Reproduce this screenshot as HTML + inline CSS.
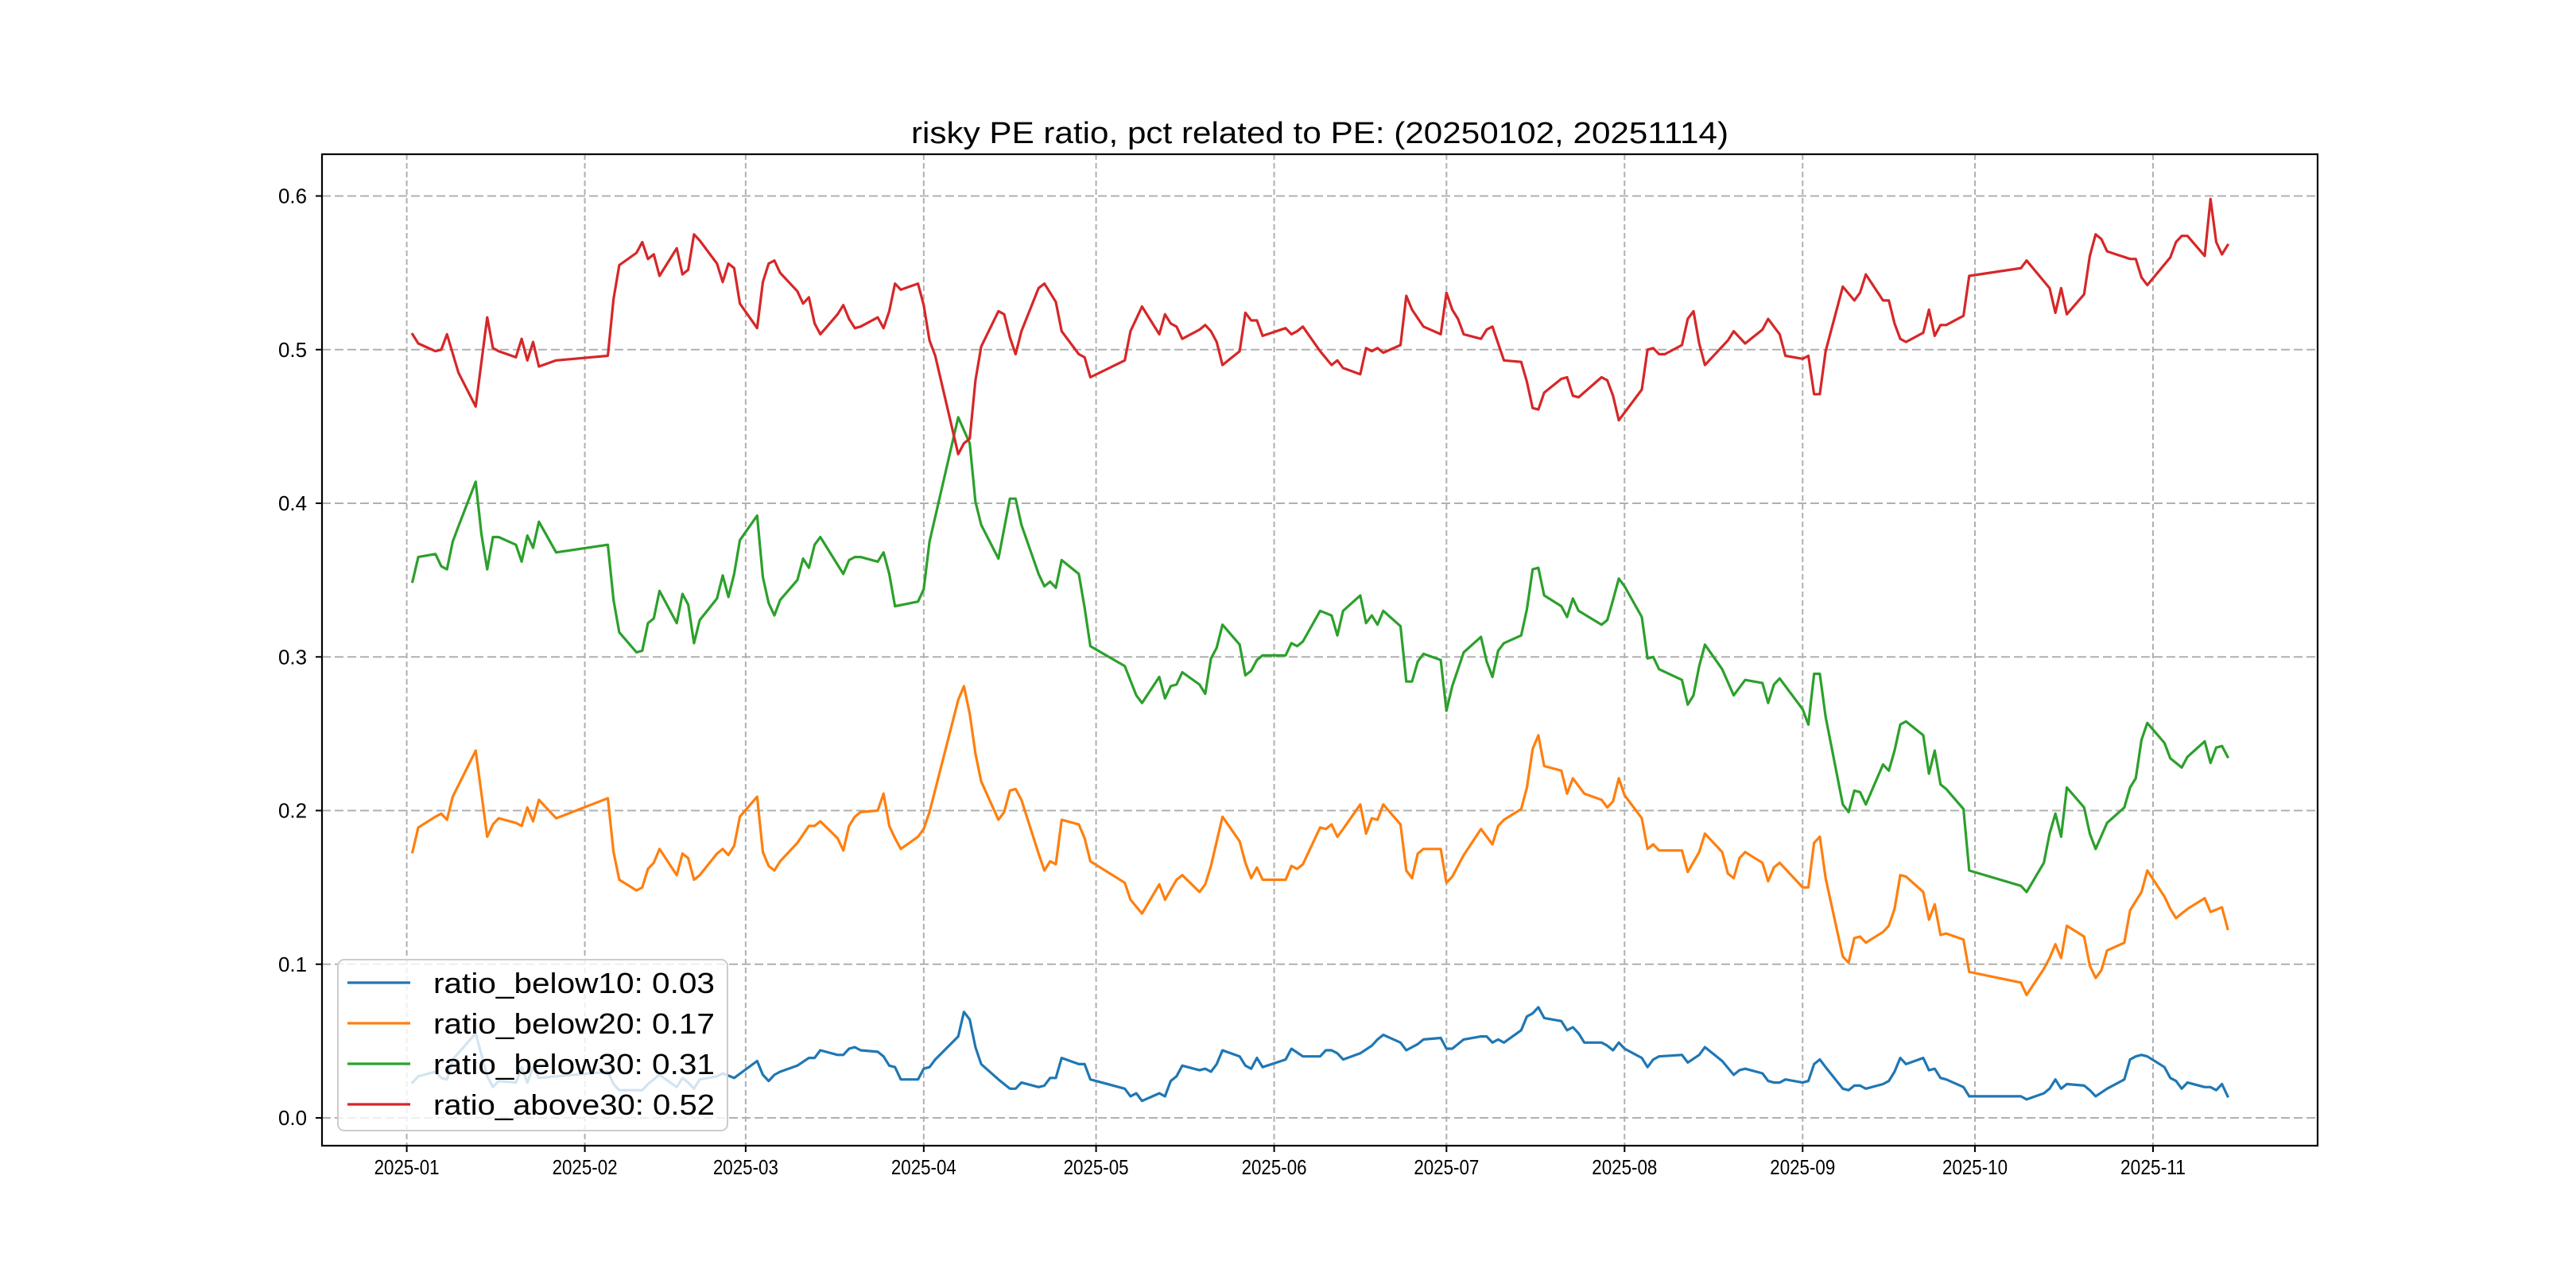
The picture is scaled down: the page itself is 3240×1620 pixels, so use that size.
<!DOCTYPE html>
<html><head><meta charset="utf-8"><style>
html,body{margin:0;padding:0;background:#fff;}
svg{display:block;}
text{font-family:"Liberation Sans","Noto Sans CJK SC",sans-serif;fill:#000;}
</style></head><body>
<svg id="chart" width="3240" height="1620" viewBox="0 0 3240 1620" xmlns="http://www.w3.org/2000/svg">
<rect x="0" y="0" width="3240" height="1620" fill="#fff"/>
<text x="1660" y="180" font-size="38" text-anchor="middle" textLength="1028" lengthAdjust="spacingAndGlyphs">risky PE ratio, pct related to PE: (20250102, 20251114)</text>
<g id="grid"></g>
<g id="series"></g>
<rect x="405" y="194" width="2510" height="1247" fill="none" stroke="#000" stroke-width="2.2"/>
<g id="ticks"></g>
<g id="legend"></g>
</svg>
<script>
const monthLabels = ["2025-01","2025-02","2025-03","2025-04","2025-05","2025-06","2025-07","2025-08","2025-09","2025-10","2025-11"];
const yTickValues = [0,0.1,0.2,0.3,0.4,0.5,0.6];
const yTickLabels = ["0.0","0.1","0.2","0.3","0.4","0.5","0.6"];
const seriesNames = ["ratio_below10: 0.03","ratio_below20: 0.17","ratio_below30: 0.31","ratio_above30: 0.52"];

const below10Days = [1,2,5,6,7,8,12,14,15,16,19,20,21,22,23,26,35,36,37,41,42,44,47,48,49,50,51,54,55,57,61,62,63,64,65,68,70,71,72,75,76,77,78,79,82,83,84,85,86,89,90,91,92,96,97,98,99,100,103,104,105,106,107,110,111,112,113,114,117,118,119,125,126,127,128,131,132,133,134,135,138,139,140,141,142,145,146,147,148,149,153,154,156,159,160,161,162,163,166,168,169,170,173,174,176,177,180,181,182,184,187,188,189,190,191,194,195,196,197,198,201,202,203,204,205,208,209,210,211,212,215,216,217,218,222,223,225,226,229,231,232,233,236,237,238,239,240,243,244,245,246,247,250,251,252,253,254,257,258,259,260,261,264,265,266,267,268,271,272,281,282,285,286,287,288,289,292,293,294,296,299,300,301,302,303,306,307,308,309,310,313,314,315,316,317];
const below10Vals = [.023,.027,.030,.026,.025,.038,.055,.027,.020,.024,.023,.033,.023,.033,.026,.027,.030,.022,.018,.018,.022,.028,.020,.026,.023,.019,.025,.027,.029,.026,.037,.028,.024,.028,.030,.034,.039,.039,.044,.041,.041,.045,.046,.044,.043,.040,.034,.033,.025,.025,.032,.033,.038,.053,.069,.064,.046,.035,.025,.022,.019,.019,.023,.020,.021,.026,.026,.039,.035,.035,.025,.019,.014,.016,.011,.016,.014,.024,.027,.034,.031,.032,.030,.035,.044,.040,.034,.032,.039,.033,.038,.045,.040,.040,.044,.044,.042,.038,.042,.047,.051,.054,.049,.044,.048,.051,.052,.045,.045,.051,.053,.053,.049,.051,.049,.057,.066,.068,.072,.065,.063,.057,.059,.055,.049,.049,.047,.044,.049,.045,.039,.033,.038,.040,.041,.036,.041,.046,.037,.028,.031,.032,.029,.024,.023,.023,.025,.023,.024,.035,.038,.033,.019,.018,.021,.021,.019,.022,.024,.030,.039,.035,.039,.031,.032,.026,.025,.020,.014,.014,.012,.016,.019,.025,.019,.022,.021,.018,.014,.019,.025,.038,.040,.041,.040,.033,.026,.024,.019,.023,.020,.020,.018,.022,.014];

const below20Days = [1,2,5,6,7,8,12,14,15,16,19,20,21,22,23,26,35,36,37,40,41,42,43,44,47,48,49,50,51,54,55,56,57,58,61,62,63,64,65,68,70,71,72,75,76,77,78,79,82,83,84,85,86,89,90,91,96,97,98,99,100,103,104,105,106,107,110,111,112,113,114,117,118,119,125,126,128,131,132,134,135,138,139,140,142,145,146,147,148,149,153,154,155,156,159,160,161,162,163,166,167,168,169,170,173,174,175,176,177,180,181,182,184,187,189,190,191,194,195,196,197,198,201,202,203,205,208,209,210,211,212,215,216,217,218,222,223,225,226,229,230,231,232,233,236,237,238,239,243,244,245,246,247,250,251,252,253,254,257,258,259,260,261,264,265,266,267,268,271,272,281,282,285,286,287,288,289,292,293,294,295,296,299,300,302,303,306,307,308,310,313,314,316,317];
const below20Vals = [.173,.189,.196,.198,.194,.209,.239,.183,.191,.195,.192,.190,.202,.193,.207,.195,.208,.173,.155,.148,.150,.162,.166,.175,.158,.172,.169,.155,.158,.172,.175,.171,.177,.196,.209,.173,.164,.161,.167,.179,.190,.190,.193,.182,.174,.190,.196,.199,.200,.211,.190,.182,.175,.183,.188,.199,.272,.281,.263,.237,.219,.194,.199,.213,.214,.207,.172,.161,.167,.165,.194,.191,.182,.167,.153,.142,.133,.152,.142,.155,.158,.147,.152,.164,.196,.180,.166,.156,.163,.155,.155,.164,.162,.165,.189,.188,.191,.183,.188,.204,.185,.195,.194,.204,.191,.161,.156,.172,.175,.175,.153,.157,.171,.188,.178,.190,.194,.201,.215,.240,.249,.229,.226,.211,.221,.211,.207,.202,.206,.221,.210,.195,.175,.178,.174,.174,.160,.173,.185,.173,.159,.156,.169,.173,.166,.154,.163,.166,.150,.150,.179,.183,.156,.105,.101,.117,.118,.114,.121,.125,.136,.158,.157,.147,.129,.139,.119,.120,.116,.095,.088,.080,.097,.104,.113,.104,.125,.118,.099,.091,.096,.109,.114,.135,.147,.161,.144,.136,.130,.136,.143,.134,.137,.123];

const below30Days = [1,2,5,6,7,8,9,12,13,14,15,16,19,20,21,22,23,26,35,36,37,40,41,42,43,44,47,48,49,50,51,54,55,56,57,58,61,62,63,64,65,68,69,70,71,72,76,77,78,79,82,83,84,85,89,90,91,96,98,99,100,103,105,106,107,110,111,112,113,114,117,118,119,125,127,128,131,132,133,134,135,138,139,140,141,142,145,146,147,148,149,153,154,155,156,159,161,162,163,166,167,168,169,170,173,174,175,176,177,180,181,182,184,187,188,189,190,191,194,195,196,197,198,201,202,203,204,208,209,210,211,212,215,216,217,218,222,223,224,225,226,229,231,233,236,237,238,239,243,244,245,246,247,250,251,252,253,254,257,258,259,260,261,264,265,266,267,268,271,272,281,282,285,286,287,288,289,292,293,294,296,299,300,301,302,303,306,307,309,310,313,314,315,316,317];
const below30Vals = [.349,.365,.367,.359,.357,.375,.385,.414,.380,.357,.378,.378,.373,.362,.379,.371,.388,.368,.373,.337,.316,.303,.304,.322,.325,.343,.322,.341,.334,.309,.324,.338,.353,.339,.354,.376,.392,.352,.335,.327,.337,.350,.364,.358,.373,.378,.354,.363,.365,.365,.362,.368,.354,.333,.336,.344,.375,.456,.439,.401,.386,.364,.403,.403,.386,.354,.346,.349,.345,.363,.354,.332,.307,.294,.275,.270,.287,.273,.281,.282,.290,.282,.276,.299,.306,.321,.308,.288,.291,.298,.301,.301,.309,.307,.310,.330,.327,.314,.330,.340,.322,.327,.321,.330,.320,.284,.284,.297,.302,.298,.265,.281,.303,.313,.297,.287,.304,.309,.314,.331,.357,.358,.340,.333,.326,.338,.330,.321,.324,.337,.351,.346,.326,.299,.300,.292,.285,.269,.275,.294,.308,.292,.275,.285,.283,.270,.282,.286,.266,.256,.289,.289,.261,.204,.199,.213,.212,.204,.230,.226,.239,.256,.258,.249,.224,.239,.217,.214,.201,.161,.151,.147,.166,.185,.198,.183,.215,.202,.185,.175,.192,.202,.215,.221,.246,.257,.244,.234,.228,.235,.245,.231,.241,.242,.235];

const above30Days = [1,2,5,6,7,9,12,14,15,16,19,20,21,22,23,26,35,36,37,40,41,42,43,44,47,48,49,50,51,54,55,56,57,58,61,62,63,64,65,68,69,70,71,72,75,76,77,78,79,82,83,84,85,86,89,90,91,92,96,97,98,99,100,103,104,105,106,107,110,111,112,113,114,117,118,119,125,126,128,131,132,133,134,135,138,139,140,141,142,145,146,147,148,149,153,154,155,156,159,161,162,163,166,167,168,169,170,173,174,175,177,180,181,182,183,184,187,188,189,191,194,195,196,197,198,201,202,203,204,208,209,210,211,212,215,216,217,218,219,222,223,224,225,226,229,230,231,233,236,237,239,240,243,244,245,246,247,250,252,253,254,257,258,259,260,261,264,265,266,267,268,271,272,281,282,286,287,288,289,292,293,294,295,296,300,301,302,303,307,308,309,310,313,314,315,316,317];
const above30Vals = [.510,.504,.499,.500,.510,.485,.463,.521,.501,.499,.495,.507,.493,.505,.489,.493,.496,.533,.555,.563,.570,.559,.562,.548,.566,.549,.552,.575,.571,.556,.544,.556,.553,.530,.514,.544,.556,.558,.550,.538,.530,.534,.517,.510,.523,.529,.520,.514,.515,.521,.514,.525,.543,.539,.543,.529,.506,.496,.432,.439,.442,.480,.502,.525,.523,.508,.497,.512,.540,.543,.537,.531,.512,.497,.495,.482,.493,.512,.528,.510,.523,.517,.515,.507,.513,.516,.512,.505,.490,.499,.524,.519,.519,.509,.514,.510,.512,.515,.499,.490,.493,.488,.484,.501,.499,.501,.498,.503,.535,.526,.515,.510,.537,.526,.520,.510,.507,.513,.515,.493,.492,.479,.462,.461,.472,.481,.482,.470,.469,.482,.480,.470,.454,.459,.474,.500,.501,.497,.497,.503,.520,.525,.504,.490,.502,.506,.512,.504,.513,.520,.510,.496,.494,.496,.471,.471,.499,.541,.532,.537,.549,.532,.532,.517,.507,.505,.511,.526,.509,.516,.516,.522,.548,.553,.558,.540,.524,.540,.523,.536,.561,.575,.572,.564,.559,.559,.547,.542,.560,.570,.574,.574,.561,.598,.570,.562,.568];

const NS = "http://www.w3.org/2000/svg";
const PL = 405, PR = 2915, PT = 194, PB = 1441;
function xScale(day){ return 511.6 + 7.225 * day; }
function yScale(v){ return 1406 - v * 1932.5; }
function monthDay(label){
  const p = label.split("-");
  const d = new Date(Date.UTC(+p[0], +p[1]-1, 1));
  return (d - Date.UTC(2025,0,1)) / 86400000;
}
function mk(tag, attrs, parent){
  const e = document.createElementNS(NS, tag);
  for (const k in attrs) e.setAttribute(k, attrs[k]);
  parent.appendChild(e);
  return e;
}
const grid = document.getElementById("grid");
const ticks = document.getElementById("ticks");
const series = document.getElementById("series");
const legend = document.getElementById("legend");

monthLabels.forEach(function(lab){
  const x = xScale(monthDay(lab));
  const g = mk("line", {x1:x, x2:x, y1:PT, y2:PB, stroke:"#b0b0b0", "stroke-width":2, "stroke-dasharray":"7,4"}, grid);
  
  
  const t = mk("line", {x1:x, x2:x, y1:PB, y2:PB+8, stroke:"#000", "stroke-width":2}, ticks);
  
  
  const tx = mk("text", {x:x, y:1477, "font-size":26, "text-anchor":"middle", textLength:82, lengthAdjust:"spacingAndGlyphs"}, ticks);
  tx.textContent = lab;
  
  
});
yTickValues.forEach(function(v, i){
  const y = yScale(v);
  const g = mk("line", {x1:PL, x2:PR, y1:y, y2:y, stroke:"#b0b0b0", "stroke-width":2, "stroke-dasharray":"11,5"}, grid);
  
  
  const t = mk("line", {x1:PL-8, x2:PL, y1:y, y2:y, stroke:"#000", "stroke-width":2}, ticks);
  
  
  const tx = mk("text", {x:386, y:y+9, "font-size":26, "text-anchor":"end", textLength:36, lengthAdjust:"spacingAndGlyphs"}, ticks);
  tx.textContent = yTickLabels[i];
  
  
});

const colors = ["#1f77b4","#ff7f0e","#2ca02c","#d62728"];
const allDays = [below10Days, below20Days, below30Days, above30Days];
const allVals = [below10Vals, below20Vals, below30Vals, above30Vals];
const lineNames = ["line-ratio-below10","line-ratio-below20","line-ratio-below30","line-ratio-above30"];
allDays.forEach(function(days, s){
  const vals = allVals[s];
  const pts = days.map(function(d, i){ return xScale(d).toFixed(1) + "," + yScale(vals[i]).toFixed(1); }).join(" ");
  const pl = mk("polyline", {points:pts, fill:"none", stroke:colors[s], "stroke-width":3.2, "stroke-linejoin":"round", "stroke-linecap":"square"}, series);
  
  
});

const box = mk("rect", {x:425, y:1207, width:490, height:215, rx:8, ry:8, fill:"#fff", "fill-opacity":0.8, stroke:"#cccccc", "stroke-width":2}, legend);


const rowsY = [1236, 1287, 1338, 1389];
const textW = [354, 354, 354, 354];
seriesNames.forEach(function(name, i){
  const ln = mk("line", {x1:437, x2:516, y1:rowsY[i], y2:rowsY[i], stroke:colors[i], "stroke-width":3.2}, legend);
  
  
  const tx = mk("text", {x:545, y:rowsY[i]+13, "font-size":36, textLength:textW[i], lengthAdjust:"spacingAndGlyphs"}, legend);
  tx.textContent = name;
  
  
});
</script>
</body></html>
